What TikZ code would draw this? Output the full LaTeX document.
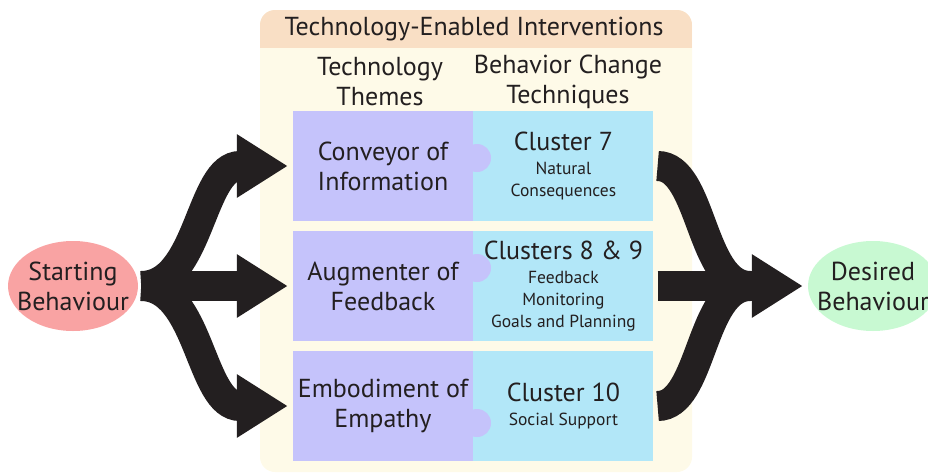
\documentclass[tikz,border=0pt]{standalone}
\usepackage{fontspec}
\setmainfont{PT Sans}
\usetikzlibrary{arrows.meta, positioning, shapes.geometric}
\usepackage{xcolor}

\definecolor{themecol}{HTML}{C5C3FB}
\definecolor{bctcol}{HTML}{B2E7F8}
\definecolor{panelcol}{HTML}{FEFAE8}
\definecolor{headcol}{HTML}{F9DFC5}
\definecolor{startcol}{HTML}{F9A3A3}
\definecolor{goalcol}{HTML}{C8F9D2}
\definecolor{inkcol}{HTML}{231F20}

\newcommand\bigtxt{\fontsize{26}{30}\selectfont}
\newcommand\smalltxt{\fontsize{17.5}{22}\selectfont}

\tikzset{
  themebox/.style={fill=themecol, minimum width=180pt, minimum height=110pt,
    inner sep=0pt, align=center, text=inkcol, font=\bigtxt},
  bctbox/.style={fill=bctcol, minimum width=180pt, minimum height=110pt,
    inner sep=0pt, align=center, text=inkcol, font=\smalltxt},
  behav/.style={ellipse, minimum width=130pt, minimum height=90pt,
    inner xsep=-10pt, inner ysep=0pt, align=center, text=inkcol, font=\bigtxt},
  coltitle/.style={align=center, text=inkcol, font=\bigtxt},
  fat/.style={line width=30pt, draw=inkcol},
  fathead/.style={fat, -{Triangle[length=51pt, width=60pt]}}
}

\begin{document}
\begin{tikzpicture}[x=1pt, y=-1pt]
  \useasboundingbox (0,0) rectangle (928,474);
  \clip (0,0) rectangle (928,474);

  % panel
  \fill[panelcol, rounded corners=15pt] (260,10) rectangle (692,472);
  \begin{scope}
    \clip[rounded corners=15pt] (260,10) rectangle (692,472);
    \fill[headcol] (260,10) rectangle (692,48);
  \end{scope}
  \node[coltitle] (head) at (474,29) {Technology-Enabled Interventions};
  \node[coltitle] (themes) at (380,82) {Technology\\Themes};
  \node[coltitle] (bcts) at (568,82) {Behavior Change\\Techniques};

  % rows
  \foreach \i/\y/\k/\theme/\bct in {
      1/166/158/{Conveyor of\\Information}/{\bigtxt Cluster 7\\[2pt]Natural\\Consequences},
      2/286/268/{Augmenter of\\Feedback}/{\bigtxt Clusters 8 \& 9\\[2pt]Feedback\\Monitoring\\Goals and Planning},
      3/406/423/{Embodiment of\\Empathy}/{\bigtxt Cluster 10\\[2pt]Social Support}} {
    \node[themebox] (theme\i) at (383,\y) {\theme};
    \node[bctbox, right=0pt of theme\i] (bct\i) {\bct};
    \fill[themecol] (477,\k) circle (14pt);
  }

  % behaviours
  \node[behav, fill=startcol] (start) at (73,286) {Starting\\Behaviour};
  \node[behav, fill=goalcol] (goal) at (873,286) {Desired\\Behaviour};

  % arrows
  \coordinate (merge) at (750,286);
  \foreach \i in {1,2,3} {
    \draw[fathead] ([xshift=3pt]start.east) .. controls +(59,0) and +(-88,0) .. ([xshift=-5pt]theme\i.west);
    \draw[fat] ([xshift=4pt]bct\i.east) .. controls +(45,0) and +(-50,0) .. (merge);
  }
  \draw[fathead] (merge) -- ([xshift=-5pt]goal.west);
\end{tikzpicture}
\end{document}
